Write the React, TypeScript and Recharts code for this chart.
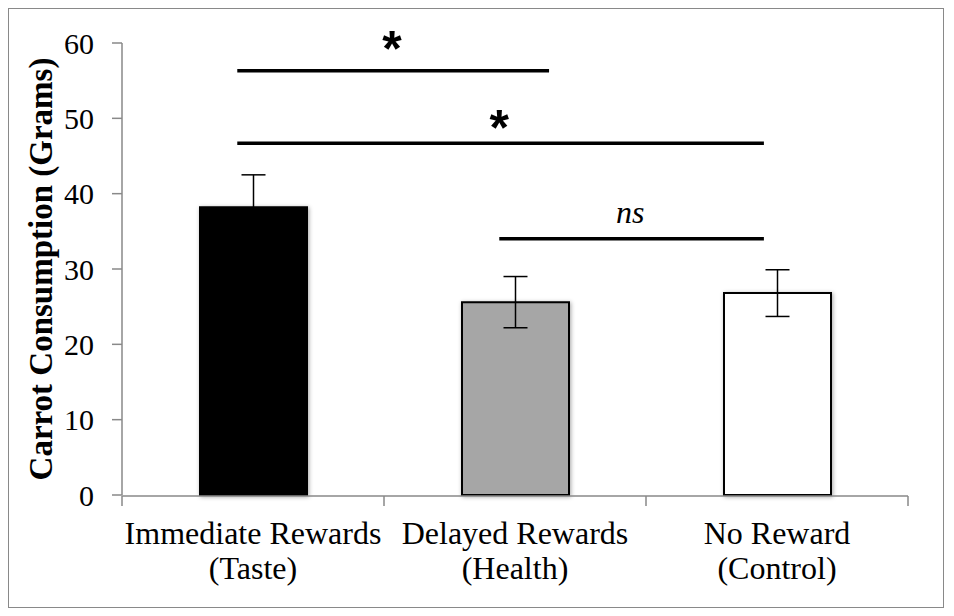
import React from 'react';
import {
  BarChart, Bar, Cell, XAxis, YAxis, ErrorBar, ReferenceLine, ReferenceDot,
} from 'recharts';

// groups (two-line tick labels)
const groupLine1 = ['Immediate Rewards', 'Delayed Rewards', 'No Reward'];
const groupLine2 = ['(Taste)', '(Health)', '(Control)'];
const groupPos = [0.5, 1.5, 2.5];
const consumption = [38.2, 25.6, 26.8];
const stdErr = [4.3, 3.4, 3.1];
const barFills = ['#000000', '#a6a6a6', '#ffffff'];
const yTicks = [0, 10, 20, 30, 40, 50, 60];
const groupEdges = [0, 1, 2, 3];

// significance brackets, x on a 0..3 group scale
const sigFrom = [0.44, 0.44, 1.44];
const sigTo = [1.63, 2.45, 2.45];
const sigLevel = [56.3, 46.7, 34.0];
const sigText = ['*', '*', 'ns'];
const sigTextX = [1.03, 1.44, 1.94];
const sigTextY = [57.0, 46.4, 36.1];

const data = groupLine1.map((g, i) => ({
  group: g,
  pos: groupPos[i],
  value: consumption[i],
  err: stdErr[i],
}));

const serif = '"Liberation Serif", "Times New Roman", serif';
const axisGrey = '#898989';

function GroupTick(props: any) {
  const { x, y, payload, index } = props;
  return (
    <text x={x} y={y} textAnchor="middle" fontFamily={serif} fontSize={32} fill="#000">
      <tspan x={x} dy={41}>{payload.value}</tspan>
      <tspan x={x} dy={35}>{groupLine2[index]}</tspan>
    </text>
  );
}

// tick marks only, no labels on the edge axis
const NoLabel = () => <g />;

function SigMark(props: any) {
  const { cx, cy, label } = props;
  const star = label === '*';
  return (
    <text
      x={cx}
      y={cy}
      textAnchor="middle"
      fontFamily={star ? '"Liberation Sans", Arial, sans-serif' : serif}
      fontWeight={star ? 700 : 400}
      fontStyle={star ? 'normal' : 'italic'}
      fontSize={star ? 50 : 32}
      fill="#000"
    >
      {label}
    </text>
  );
}

export default function App() {
  return (
    <div style={{ width: 934, height: 598, border: `1px solid ${axisGrey}`, background: '#fff' }}>
      <BarChart
        width={934}
        height={598}
        data={data}
        margin={{ top: 34, right: 35, bottom: 110, left: 0 }}
      >
        <XAxis
          dataKey="group"
          xAxisId="cat"
          axisLine={false}
          tickLine={false}
          tick={<GroupTick />}
          height={1}
          interval={0}
        />
        <XAxis
          dataKey="pos"
          xAxisId="num"
          type="number"
          domain={[0, 3]}
          allowDataOverflow
          ticks={groupEdges}
          interval={0}
          tick={<NoLabel />}
          tickLine={{ stroke: axisGrey, strokeWidth: 1.5 }}
          tickSize={10}
          height={1}
          stroke={axisGrey}
          strokeWidth={1.5}
        />
        <YAxis
          domain={[0, 60]}
          ticks={yTicks}
          width={113}
          tickSize={10}
          tickMargin={18}
          stroke={axisGrey}
          strokeWidth={1.5}
          tick={{ fontFamily: serif, fontSize: 30, fill: '#000' }}
          label={{
            value: 'Carrot Consumption (Grams)',
            angle: -90,
            position: 'insideLeft',
            offset: 31,
            style: { textAnchor: 'middle', fontFamily: serif, fontSize: 33, fontWeight: 700, fill: '#000' },
          }}
        />
        <Bar xAxisId="cat" dataKey="value" barSize={107} stroke="#000" strokeWidth={2} isAnimationActive={false}>
          {data.map((d, i) => (
            <Cell key={d.group} fill={barFills[i]} style={{ filter: 'drop-shadow(1px 1px 2px rgba(0,0,0,0.35))' }} />
          ))}
          <ErrorBar dataKey="err" width={12} stroke="#000" strokeWidth={1.5} isAnimationActive={false} />
        </Bar>
        {sigLevel.map((lvl, i) => (
          <ReferenceLine
            key={`line-${i}`}
            xAxisId="num"
            segment={[{ x: sigFrom[i], y: lvl }, { x: sigTo[i], y: lvl }]}
            stroke="#000"
            strokeWidth={3.5}
            ifOverflow="visible"
          />
        ))}
        {sigText.map((t, i) => (
          <ReferenceDot
            key={`mark-${i}`}
            xAxisId="num"
            x={sigTextX[i]}
            y={sigTextY[i]}
            r={0}
            ifOverflow="visible"
            shape={(p: any) => <SigMark {...p} label={t} />}
          />
        ))}
      </BarChart>
    </div>
  );
}
